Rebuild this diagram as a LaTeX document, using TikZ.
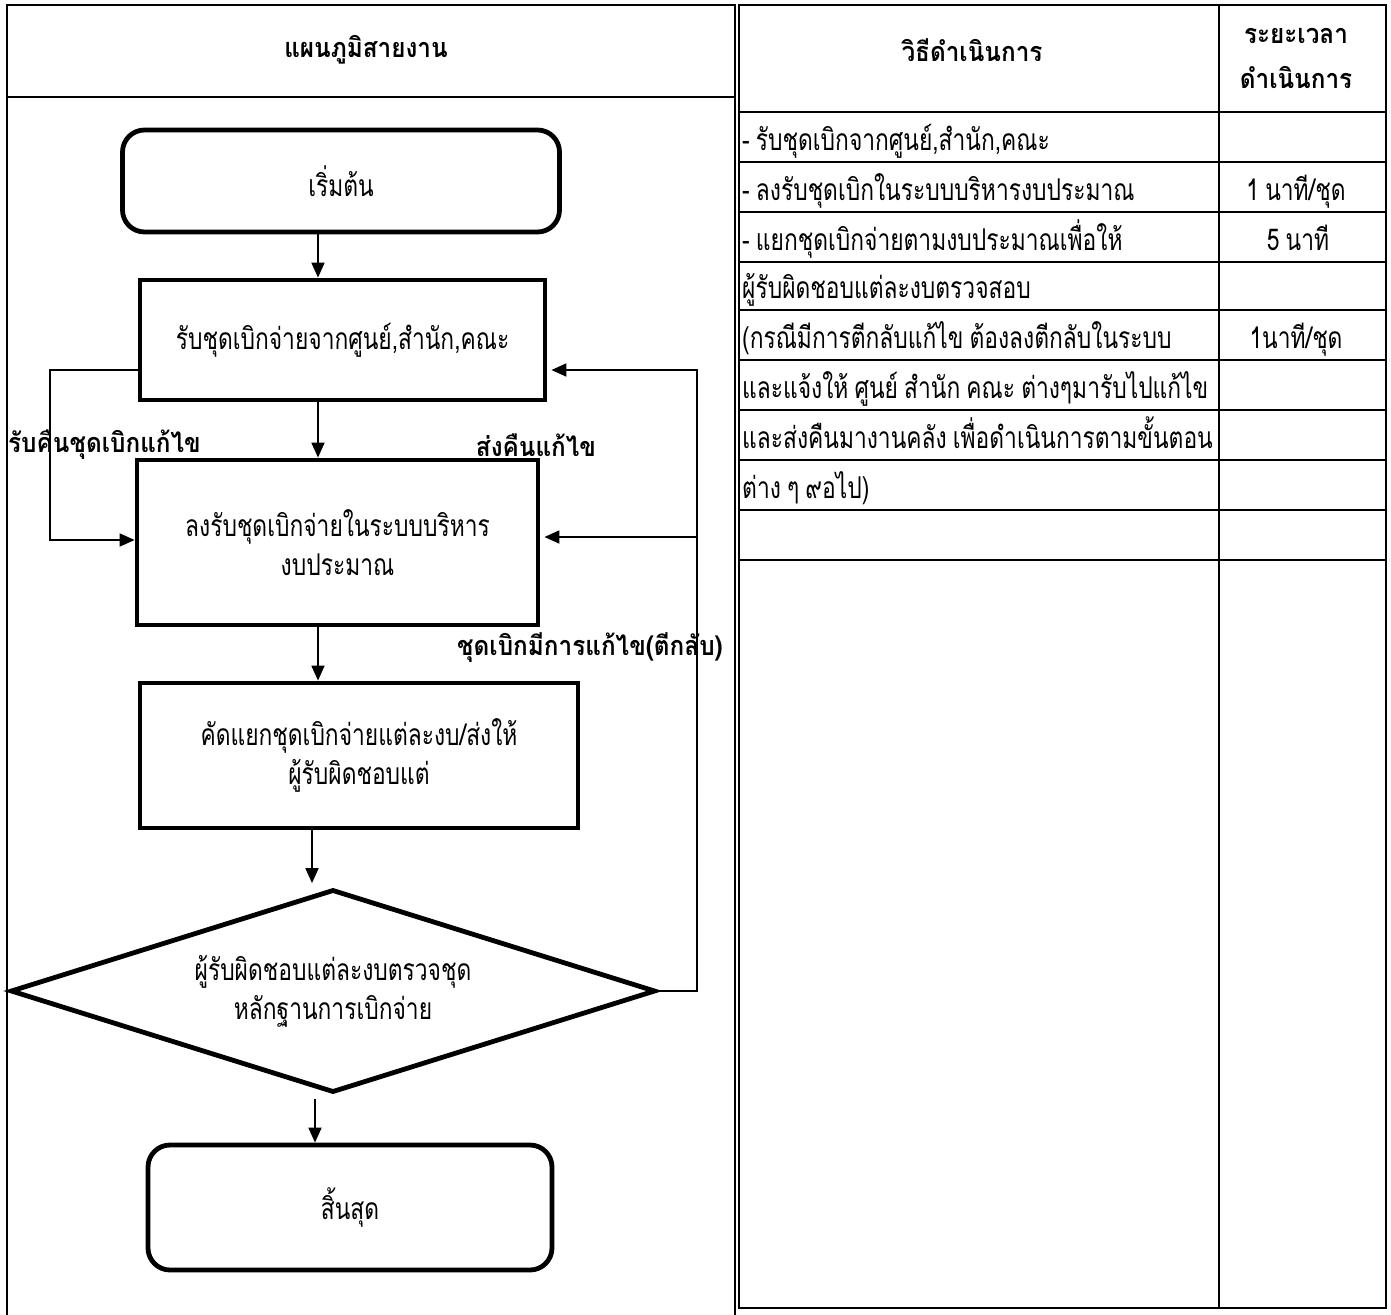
\documentclass[tikz,border=0pt]{standalone}
\usepackage{fontspec}
\newfontfamily\thai[Script=Thai,FakeStretch=0.76,WordSpace=0.8]{Loma}
\newfontfamily\thaihead[Script=Thai,FakeStretch=0.9]{Loma}
\usetikzlibrary{shapes.geometric,arrows.meta,calc}

\tikzset{
  body/.style={font=\thai\fontsize{30}{39}\selectfont},
  head/.style={font=\thaihead\bfseries\fontsize{27}{45}\selectfont},
  proc/.style={draw, line width=4.8pt, inner sep=0pt, align=center, body},
  term/.style={proc, rounded corners=22pt},
  decision/.style={draw, diamond, shape aspect=3.18, line width=4.8pt, inner sep=0pt, align=center, body},
  arr/.style={line width=1.8pt, -{Triangle[length=15pt,width=13pt]}},
  grid/.style={line width=2.4pt},
  lbl/.style={inner sep=0pt, head},
  cell/.style={inner sep=0pt, anchor=base west, body},
  timecell/.style={inner sep=0pt, anchor=base, body}
}

\begin{document}
\begin{tikzpicture}[x=1pt,y=-1pt]
\useasboundingbox (0,0) rectangle (1391,1314);

% ---- left table: frame and header ----
\draw[grid] (7,1320) -- (7,5) -- (735,5) -- (735,1320);
\draw[grid] (7,97) -- (735,97);
\node[lbl] (hflow) at (366,50) {แผนภูมิสายงาน};

% ---- right table: frame, columns and rows ----
\draw[grid] (739,5) rectangle (1386,1308);
\draw[grid] (1219,5) -- (1219,1308);
\foreach \yy in {112,162,212,262,310,360,410,460,510,560}
  \draw[grid] (739,\yy) -- (1386,\yy);
\node[lbl] (hstep) at (972,50) {วิธีดำเนินการ};
\node[lbl, align=center] (htime) at (1296,58) {ระยะเวลา\\ดำเนินการ};

\node[cell] (s1) at (742,150) {- รับชุดเบิกจากศูนย์,สำนัก,คณะ};
\node[cell] (s2) at (742,200) {- ลงรับชุดเบิกในระบบบริหารงบประมาณ};
\node[cell] (s3) at (742,250) {- แยกชุดเบิกจ่ายตามงบประมาณเพื่อให้};
\node[cell] (s4) at (742,298) {ผู้รับผิดชอบแต่ละงบตรวจสอบ};
\node[cell] (s5) at (742,348) {(กรณีมีการตีกลับแก้ไข ต้องลงตีกลับในระบบ};
\node[cell] (s6) at (742,398) {และแจ้งให้ ศูนย์ สำนัก คณะ ต่างๆมารับไปแก้ไข};
\node[cell] (s7) at (742,448) {และส่งคืนมางานคลัง เพื่อดำเนินการตามขั้นตอน};
\node[cell] (s8) at (742,498) {ต่าง ๆ ๙อไป)};

\node[timecell] (t2) at (1296,200) {1 นาที/ชุด};
\node[timecell] (t3) at (1298,250) {5 นาที};
\node[timecell] (t5) at (1296,348) {1นาที/ชุด};

% ---- flowchart ----
\node[term, minimum width=437pt, minimum height=102pt] (start) at (341,181) {เริ่มต้น};
\node[proc, minimum width=405pt, minimum height=120pt] (recv) at (342.5,340) {รับชุดเบิกจ่ายจากศูนย์,สำนัก,คณะ};
\node[proc, minimum width=401pt, minimum height=165pt] (reg) at (337.5,542.5) {ลงรับชุดเบิกจ่ายในระบบบริหาร\\งบประมาณ};
\node[proc, minimum width=438pt, minimum height=145pt] (sort) at (359,755.5) {คัดแยกชุดเบิกจ่ายแต่ละงบ/ส่งให้\\ผู้รับผิดชอบแต่};
\node[decision, minimum width=645pt, minimum height=203pt] (chk) at (333,991) {ผู้รับผิดชอบแต่ละงบตรวจชุด\\หลักฐานการเบิกจ่าย};
\node[term, minimum width=404pt, minimum height=125pt] (stop) at (350,1207.5) {สิ้นสุด};

% columns of the downward arrows
\coordinate (xa) at (318,0);
\coordinate (xb) at (312,0);
\coordinate (xc) at (315,0);
\draw[arr] (start.south -| xa) -- (recv.north -| xa);
\draw[arr] (recv.south -| xa) -- (reg.north -| xa);
\draw[arr] (reg.south -| xa) -- (sort.north -| xa);
\draw[arr, shorten >=4pt] (sort.south -| xb) -- (xb |- chk.north);
\draw[arr, shorten <=4pt] (xc |- chk.south) -- (stop.north -| xc);

% return loops
\coordinate (lx) at (50,0);
\coordinate (rx) at (697,0);
\coordinate (ya) at (0,370);
\coordinate (yb) at (0,540);
\coordinate (yc) at (0,537);
\draw[arr] (recv.west |- ya) -| (lx |- yb) -- (reg.west |- yb);
\draw[arr, shorten >=4pt] (chk.east) -| (rx |- ya) -- (recv.east |- ya);
\draw[arr, shorten >=4pt] (rx |- yc) -- (reg.east |- yc);

\node[lbl, anchor=west] (lback) at (8,445) {รับคืนชุดเบิกแก้ไข};
\node[lbl] (lsend) at (536,445) {ส่งคืนแก้ไข};
\node[lbl] (lfix) at (590,648) {ชุดเบิกมีการแก้ไข(ตีกลับ)};
\end{tikzpicture}
\end{document}
